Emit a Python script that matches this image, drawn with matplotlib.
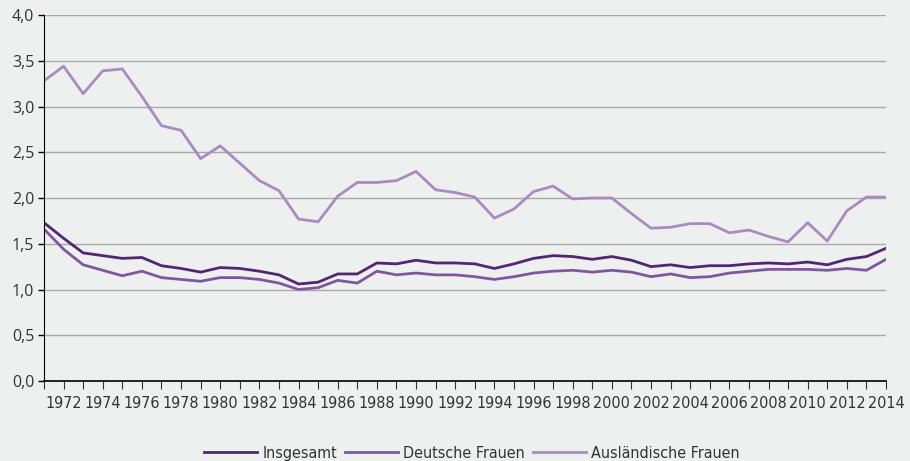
import matplotlib
matplotlib.use("Agg")
import matplotlib.pyplot as plt
from matplotlib import font_manager as fm
from matplotlib.ticker import FuncFormatter, MultipleLocator

years = list(range(1971, 2015))

insgesamt = [1.73, 1.56, 1.40, 1.37, 1.34, 1.35, 1.26, 1.23, 1.19, 1.24,
             1.23, 1.20, 1.16, 1.06, 1.08, 1.17, 1.17, 1.29, 1.28, 1.32,
             1.29, 1.29, 1.28, 1.23, 1.28, 1.34, 1.37, 1.36, 1.33, 1.36,
             1.32, 1.25, 1.27, 1.24, 1.26, 1.26, 1.28, 1.29, 1.28, 1.30,
             1.27, 1.33, 1.36, 1.45]

deutsche = [1.66, 1.44, 1.27, 1.21, 1.15, 1.20, 1.13, 1.11, 1.09, 1.13,
            1.13, 1.11, 1.07, 1.00, 1.02, 1.10, 1.07, 1.20, 1.16, 1.18,
            1.16, 1.16, 1.14, 1.11, 1.14, 1.18, 1.20, 1.21, 1.19, 1.21,
            1.19, 1.14, 1.17, 1.13, 1.14, 1.18, 1.20, 1.22, 1.22, 1.22,
            1.21, 1.23, 1.21, 1.33]

auslaendische = [3.28, 3.44, 3.14, 3.39, 3.41, 3.11, 2.79, 2.74, 2.43, 2.57,
                 2.38, 2.19, 2.08, 1.77, 1.74, 2.02, 2.17, 2.17, 2.19, 2.29,
                 2.09, 2.06, 2.01, 1.78, 1.88, 2.07, 2.13, 1.99, 2.00, 2.00,
                 1.83, 1.67, 1.68, 1.72, 1.72, 1.62, 1.65, 1.58, 1.52, 1.73,
                 1.53, 1.86, 2.01, 2.01]

series_names = ["Insgesamt", "Deutsche Frauen", "Ausländische Frauen"]
colors = ["#522673", "#7f57a1", "#a68cbf"]

bg = "#eef0ef"


def find_narrow():
    # look for some condensed / narrow regular face on the system
    best = None
    for f in fm.fontManager.ttflist:
        if f.style != "normal" or f.weight not in (400, "normal", "regular"):
            continue
        n = f.name.lower()
        p = f.fname.lower()
        score = 0
        if "liberation sans narrow" in n:
            score = 3
        elif "condensed" in p and "sans" in n and "bold" not in p and "oblique" not in p:
            score = 2
        elif "narrow" in n or "condensed" in n:
            score = 1
        if score and (best is None or score > best[0]):
            best = (score, f.fname)
    return best[1] if best else None


narrow_path = find_narrow()


def narrow_font(size):
    if narrow_path:
        return fm.FontProperties(fname=narrow_path, size=size)
    return fm.FontProperties(family="Liberation Sans", size=size - 1.5)


fig = plt.figure(figsize=(9.1, 4.61), dpi=100, facecolor=bg)
ax = fig.add_axes([44 / 910, 1 - 381 / 461, 842 / 910, 366 / 461])
ax.set_facecolor(bg)

for vals, name, c in zip([insgesamt, deutsche, auslaendische], series_names, colors):
    ax.plot(years, vals, color=c, lw=2.0, label=name)

ax.set_xlim(1971, 2014)
ax.set_ylim(0, 4.0)
ax.yaxis.set_major_locator(MultipleLocator(0.5))
ax.yaxis.set_major_formatter(FuncFormatter(lambda v, p: f"{v:.1f}".replace(".", ",")))
ax.set_xticks(years)
ax.set_xticklabels([str(y) if y % 2 == 0 else "" for y in years])

ax.grid(axis="y", color="#a9a9a9", lw=1.0)
ax.set_axisbelow(True)
for s in ["top", "right"]:
    ax.spines[s].set_visible(False)
ax.spines["left"].set_color("black")
ax.spines["bottom"].set_color("black")
ax.spines["bottom"].set_linewidth(1.2)

ax.tick_params(axis="y", length=4, width=1, colors="black", labelcolor="#333333", labelsize=11.5, pad=3)
ax.tick_params(axis="x", length=6, width=0.8, colors="#333333", pad=5)
for lab in ax.get_xticklabels():
    lab.set_fontproperties(narrow_font(11.5))
for lab in ax.get_yticklabels():
    lab.set_family(["Open Sans", "DejaVu Sans"])

leg = fig.legend(loc="center", bbox_to_anchor=(472 / 910, 1 - 453 / 461), ncol=3, frameon=False,
                 prop=narrow_font(11.5), handlelength=3.3, handletextpad=0.35,
                 columnspacing=0.5)
for t in leg.get_texts():
    t.set_color("#333333")

fig.savefig("out.png", dpi=100, facecolor=bg)
